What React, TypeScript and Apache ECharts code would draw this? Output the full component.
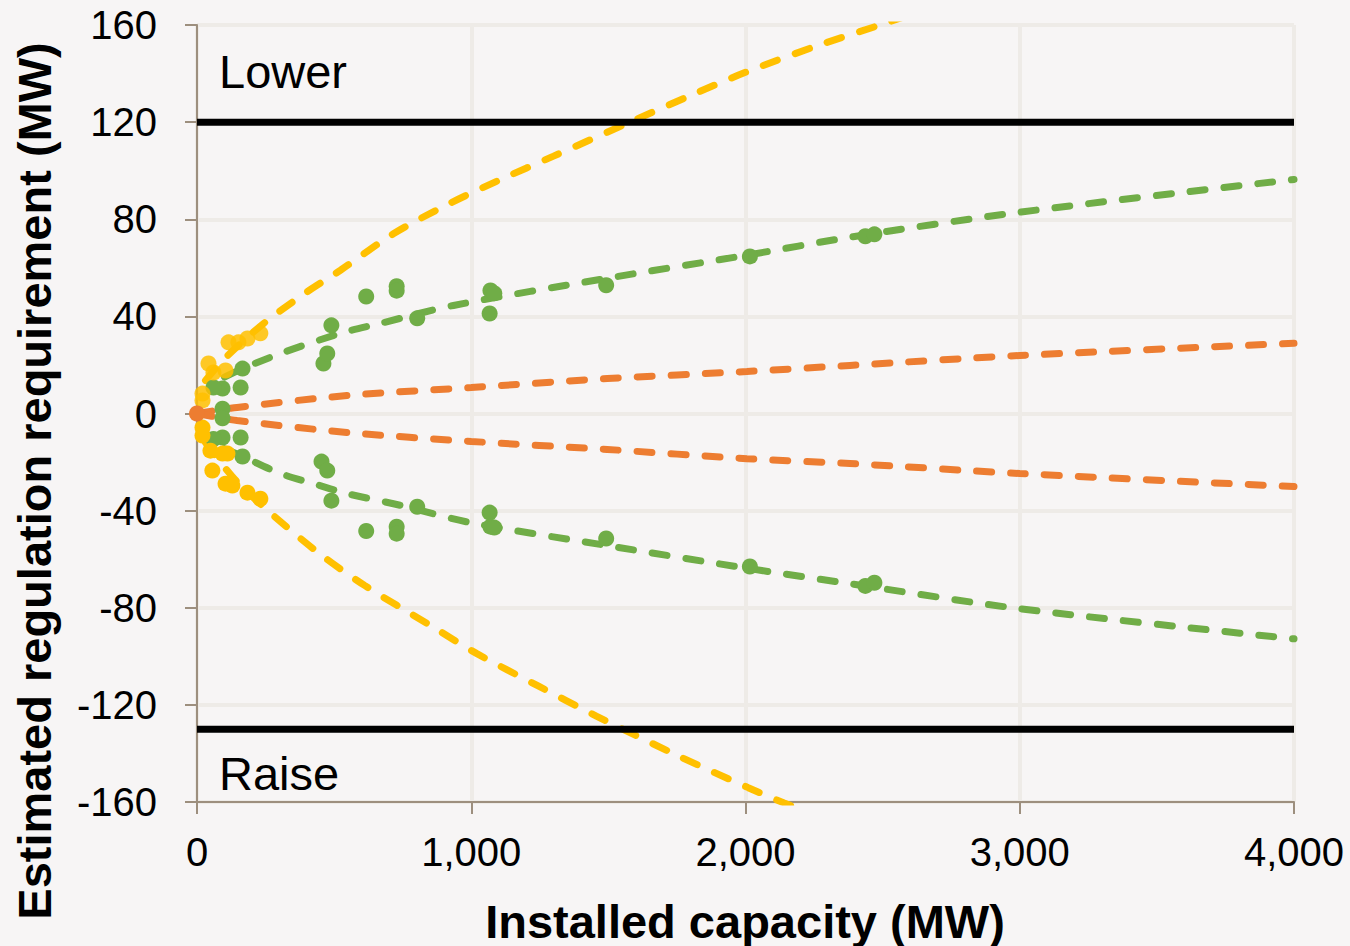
import React, { useEffect, useRef } from "react";
import * as echarts from "echarts";

// Axis settings
const xMin = 0;
const xMax = 4000;
const xInterval = 1000;
const yMin = -160;
const yMax = 160;
const yInterval = 40;

// Requirement limits (black lines)
const lowerLimit = 120;
const raiseLimit = -130;

// Trend lines [installed MW, MW]
const yellowTrendUpper = [
  [31, 13.6], [104, 23], [242, 37], [400, 50], [523, 59], [716, 74], [912, 86],
  [1100, 96], [1300, 106], [1579, 120], [1800, 131], [2000, 140.5], [2250, 151],
  [2490, 160], [2700, 168],
];
const yellowTrendLower = [
  [31, -12], [129, -26], [246, -38.8], [443, -57.4], [611, -70.8], [847, -87],
  [1019, -98.8], [1244, -112.2], [1456, -124.6], [1766, -141.6], [2010, -154.1],
  [2141, -160.4], [2300, -167],
];
const greenTrendUpper = [
  [100, 15], [166, 18.5], [304, 24.7], [523, 33], [668, 37.1], [935, 44.5], [1496, 55.7],
  [2005, 65.2], [2381, 72.6], [3000, 82.9], [4000, 96.4],
];
const greenTrendLower = [
  [100, -14.5], [166, -17.7], [304, -24.7], [425, -28.9], [548, -33], [741, -37.8],
  [996, -44.9], [1496, -54.4], [2016, -63.9], [2381, -70.1], [3000, -80.4], [4000, -92.8],
];
const orangeTrendUpper = [
  [0, 0], [146, 2.5], [548, 7.4], [1000, 10.7], [1496, 14.4], [2005, 17.3], [2381, 19.8],
  [3000, 23.9], [4000, 28.9],
];
const orangeTrendLower = [
  [0, 0], [146, -2.9], [548, -7.8], [1000, -11.5], [1496, -14.8], [2005, -18.6],
  [2381, -20.6], [3000, -24.7], [4000, -30.1],
];

// Scatter points [installed MW, MW]
const greenPoints = [
  [93, 10.3], [60, 10.7], [159, 10.7], [166, 18.5], [93, 2], [461, 20.6], [475, 24.7],
  [490, 36.3], [617, 48.2], [728, 52.4], [728, 50.6], [803, 39.2], [1067, 41.2],
  [1070, 50.7], [1084, 49.5], [1492, 52.8], [2016, 64.7], [2437, 73], [2470, 73.8],
  [93, -9.9], [60, -10.5], [159, -9.9], [166, -17.7], [93, -2], [454, -19.8], [475, -23.5],
  [490, -35.9], [617, -48.4], [728, -46.6], [728, -49.5], [803, -38.4], [1067, -40.8],
  [1070, -46.6], [1084, -47], [1492, -51.5], [2016, -63], [2437, -71], [2470, -69.7],
];
const yellowPointsUpper = [
  [115, 29.3], [151, 29.3], [184, 30.9], [231, 33], [42, 20.6], [60, 16.9], [104, 17.7],
  [20, 8.2], [20, 5.4],
];
const yellowPointsLower = [
  [20, -5.8], [20, -9.1], [49, -15.3], [56, -23.5], [93, -16.5], [111, -16.5],
  [104, -28.9], [129, -29.7], [184, -32.6], [231, -35.1],
];
const orangePoints = [[0, 0]];

const YELLOW = "#ffc000";
const GREEN = "#70ad47";
const ORANGE = "#ed7d31";
const AXIS = "#9d8f7e";
const GRIDC = "#eeebe7";
const BG = "#f7f5f5";
const FONT = "'Liberation Sans', Arial, sans-serif";

const dashed = (color: string) => ({
  color,
  width: 7,
  type: [15, 19] as number[],
  cap: "round" as const,
});

export default function App() {
  const ref = useRef<HTMLDivElement>(null);
  useEffect(() => {
    if (!ref.current) return;
    const chart = echarts.init(ref.current, undefined, { renderer: "svg" });
    const trend = (data: number[][], color: string) => ({
      type: "line",
      data,
      symbol: "none",
      smooth: 0.3,
      lineStyle: dashed(color),
      z: 2,
      silent: true,
    });
    const limit = (v: number) => ({
      type: "line",
      data: [[xMin, v], [xMax, v]],
      symbol: "none",
      lineStyle: { color: "#000", width: 7 },
      z: 3,
      silent: true,
    });
    const scatter = (data: number[][], color: string, z: number, opacity = 1) => ({
      type: "scatter",
      data,
      symbol: "circle",
      symbolSize: 16,
      itemStyle: { color, opacity },
      z,
      silent: true,
    });
    chart.setOption({
      animation: false,
      backgroundColor: BG,
      grid: { left: 197, right: 56, top: 25, bottom: 144, containLabel: false },
      xAxis: {
        type: "value",
        min: xMin,
        max: xMax,
        interval: xInterval,
        axisLine: { show: true, onZero: false, lineStyle: { color: AXIS, width: 2 } },
        axisTick: { show: true, length: 12, lineStyle: { color: AXIS, width: 2 } },
        axisLabel: {
          margin: 30,
          color: "#000",
          fontSize: 40,
          fontFamily: FONT,
          formatter: (v: number) => v.toLocaleString("en-US"),
        },
        splitLine: { show: true, lineStyle: { color: GRIDC, width: 4 } },
      },
      yAxis: {
        type: "value",
        min: yMin,
        max: yMax,
        interval: yInterval,
        axisLine: { show: true, onZero: false, lineStyle: { color: AXIS, width: 2 } },
        axisTick: { show: true, length: 12, lineStyle: { color: AXIS, width: 2 } },
        axisLabel: { margin: 40, color: "#000", fontSize: 40, fontFamily: FONT },
        splitLine: { show: true, lineStyle: { color: GRIDC, width: 4 } },
      },
      graphic: [
        {
          type: "text",
          left: 219,
          top: 48,
          style: { text: "Lower", fontSize: 47, fontFamily: FONT, fill: "#000" },
          z: 10,
        },
        {
          type: "text",
          left: 219,
          top: 750,
          style: { text: "Raise", fontSize: 47, fontFamily: FONT, fill: "#000" },
          z: 10,
        },
        {
          type: "text",
          x: 745,
          y: 921,
          style: {
            text: "Installed capacity (MW)",
            fontSize: 47,
            fontWeight: "bold",
            fontFamily: FONT,
            fill: "#000",
            align: "center",
            verticalAlign: "middle",
          },
          z: 10,
        },
        {
          type: "text",
          x: 34,
          y: 481,
          rotation: Math.PI / 2,
          style: {
            text: "Estimated regulation requirement (MW)",
            fontSize: 47,
            fontWeight: "bold",
            fontFamily: FONT,
            fill: "#000",
            align: "center",
            verticalAlign: "middle",
          },
          z: 10,
        },
      ],
      series: [
        limit(lowerLimit),
        limit(raiseLimit),
        trend(yellowTrendUpper, YELLOW),
        trend(yellowTrendLower, YELLOW),
        trend(greenTrendUpper, GREEN),
        trend(greenTrendLower, GREEN),
        trend(orangeTrendUpper, ORANGE),
        trend(orangeTrendLower, ORANGE),
        scatter(greenPoints, GREEN, 4),
        scatter(yellowPointsUpper, YELLOW, 5, 0.85),
        scatter(yellowPointsLower, YELLOW, 5),
        scatter(orangePoints, ORANGE, 6),
      ],
    });
    return () => chart.dispose();
  }, []);
  return (
    <div
      ref={ref}
      style={{ position: "fixed", left: 0, top: 0, width: 1350, height: 946 }}
    />
  );
}
